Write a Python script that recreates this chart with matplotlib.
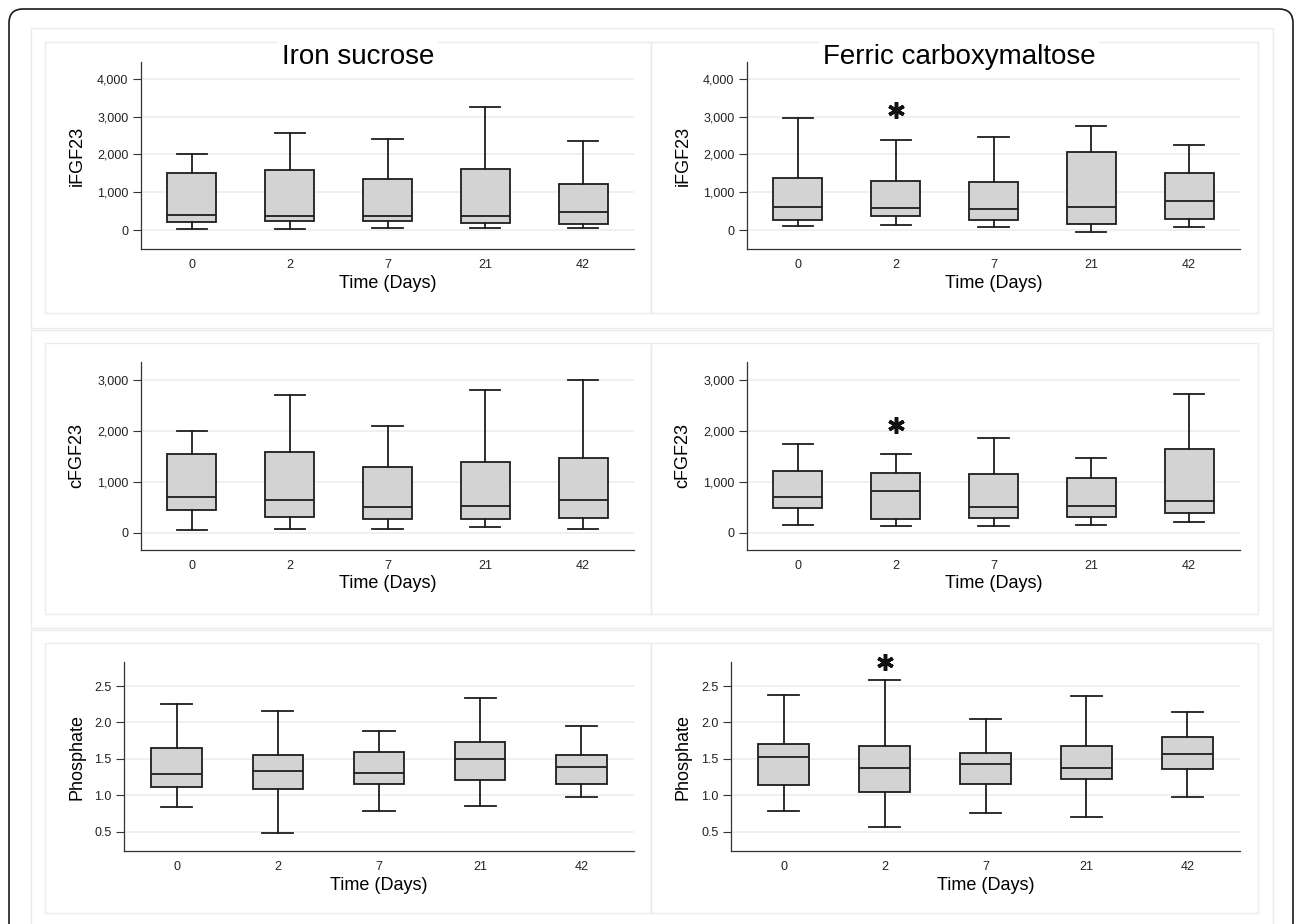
import matplotlib.pyplot as plt
import matplotlib.ticker as mticker
from matplotlib.patches import FancyBboxPatch, Rectangle

plt.rcParams['font.family'] = ['Liberation Sans', 'DejaVu Sans']

days = ['0', '2', '7', '21', '42']
groups = ['Iron sucrose', 'Ferric carboxymaltose']

# box plot summaries: lower whisker, q1, median, q3, upper whisker
ifgf_is_lo = [26, 26, 53, 62, 53]
ifgf_is_q1 = [221, 238, 238, 177, 159]
ifgf_is_med = [397, 371, 380, 371, 477]
ifgf_is_q3 = [1510, 1581, 1342, 1625, 1227]
ifgf_is_hi = [2010, 2561, 2402, 3258, 2358]

ifgf_fcm_lo = [106, 124, 88, -44, 79]
ifgf_fcm_q1 = [265, 362, 265, 168, 283]
ifgf_fcm_med = [618, 574, 556, 600, 759]
ifgf_fcm_q3 = [1377, 1307, 1263, 2057, 1519]
ifgf_fcm_hi = [2958, 2384, 2455, 2764, 2243]

cfgf_is_lo = [59, 66, 72, 111, 66]
cfgf_is_q1 = [452, 308, 275, 275, 295]
cfgf_is_med = [707, 648, 504, 531, 635]
cfgf_is_q3 = [1559, 1585, 1284, 1395, 1474]
cfgf_is_hi = [2004, 2718, 2096, 2810, 3013]

cfgf_fcm_lo = [151, 138, 124, 144, 210]
cfgf_fcm_q1 = [485, 275, 295, 308, 380]
cfgf_fcm_med = [707, 812, 504, 531, 629]
cfgf_fcm_q3 = [1212, 1173, 1146, 1081, 1651]
cfgf_fcm_hi = [1742, 1546, 1873, 1480, 2725]

phos_is_lo = [0.84, 0.48, 0.78, 0.85, 0.98]
phos_is_q1 = [1.11, 1.08, 1.15, 1.21, 1.15]
phos_is_med = [1.29, 1.33, 1.30, 1.50, 1.39]
phos_is_q3 = [1.65, 1.55, 1.60, 1.73, 1.55]
phos_is_hi = [2.25, 2.16, 1.88, 2.33, 1.95]

phos_fcm_lo = [0.79, 0.56, 0.76, 0.70, 0.97]
phos_fcm_q1 = [1.14, 1.05, 1.16, 1.22, 1.36]
phos_fcm_med = [1.53, 1.37, 1.43, 1.37, 1.56]
phos_fcm_q3 = [1.71, 1.67, 1.58, 1.68, 1.80]
phos_fcm_hi = [2.38, 2.58, 2.05, 2.36, 2.15]

# significance stars (FCM, day 2)
star_day = 2
star_level = [3170, 2116, 2.834]

W, H = 1295, 924
fig = plt.figure(figsize=(W / 100, H / 100), dpi=100)

# background frames drawn in pixel space
bg = fig.add_axes([0, 0, 1, 1])
bg.set_xlim(0, W)
bg.set_ylim(H, 0)
bg.axis('off')
bg.add_patch(FancyBboxPatch((9, 9), 1284, 940, boxstyle='round,pad=0,rounding_size=14',
                            fc='white', ec='#1a1a1a', lw=1.2))
frame_col = '#ebebeb'
for y0, y1 in [(28, 328), (330, 628), (630, 945)]:
    bg.add_patch(Rectangle((31, y0), 1242, y1 - y0, fc='none', ec=frame_col, lw=1.0))
for y0, y1 in [(42, 313), (343, 614), (643, 913)]:
    bg.add_patch(Rectangle((45, y0), 606, y1 - y0, fc='none', ec=frame_col, lw=1.0))
    bg.add_patch(Rectangle((651, y0), 607, y1 - y0, fc='none', ec=frame_col, lw=1.0))


def px_axes(x0, y0, x1, y1):
    return fig.add_axes([x0 / W, 1 - y1 / H, (x1 - x0) / W, (y1 - y0) / H])


def draw_box(ax, lo, q1, med, q3, hi):
    stats = [dict(whislo=lo[i], q1=q1[i], med=med[i], q3=q3[i], whishi=hi[i], label=days[i])
             for i in range(len(days))]
    lc = '#1e1e1e'
    ax.bxp(stats, positions=range(1, 6), widths=0.5, capwidths=0.31, patch_artist=True,
           showfliers=False,
           boxprops=dict(facecolor='#d3d3d3', edgecolor=lc, linewidth=1.3),
           whiskerprops=dict(color=lc, linewidth=1.3),
           capprops=dict(color=lc, linewidth=1.3),
           medianprops=dict(color=lc, linewidth=1.3))


def style(ax, ylabel, ylim, yticks, fmt, ylab_px):
    ax.set_xlim(0.48, 5.52)
    ax.set_ylim(*ylim)
    ax.set_yticks(yticks)
    ax.yaxis.set_major_formatter(fmt)
    for s in ['top', 'right']:
        ax.spines[s].set_visible(False)
    for s in ['left', 'bottom']:
        ax.spines[s].set_color('#333333')
        ax.spines[s].set_linewidth(0.9)
    ax.grid(axis='y', color='#eeeeee', linewidth=1.2)
    ax.set_axisbelow(True)
    ax.tick_params(axis='y', length=6, width=0.8, color='#333333', pad=3, labelsize=9,
                   labelcolor='#222222')
    ax.tick_params(axis='x', length=0, pad=7, labelsize=9, labelcolor='#222222')
    ax.set_xlabel('Time (Days)', fontsize=13)
    ax.xaxis.set_label_coords(0.5, -34 / (ax.get_position().height * H))
    ax.xaxis.label.set_va('center')
    ax.set_ylabel(ylabel, fontsize=13)
    pos = ax.get_position()
    ax.yaxis.set_label_coords((ylab_px / W - pos.x0) / pos.width, 0.5)
    ax.yaxis.label.set_va('center')


thousands = mticker.FuncFormatter(lambda v, p: f'{v:,.0f}')
onedec = mticker.FuncFormatter(lambda v, p: f'{v:.1f}')

rows = [
    ('iFGF23', (62, 249), (-503, 4450), [0, 1000, 2000, 3000, 4000], thousands,
     [(ifgf_is_lo, ifgf_is_q1, ifgf_is_med, ifgf_is_q3, ifgf_is_hi),
      (ifgf_fcm_lo, ifgf_fcm_q1, ifgf_fcm_med, ifgf_fcm_q3, ifgf_fcm_hi)], (141, 747)),
    ('cFGF23', (362, 550), (-340, 3360), [0, 1000, 2000, 3000], thousands,
     [(cfgf_is_lo, cfgf_is_q1, cfgf_is_med, cfgf_is_q3, cfgf_is_hi),
      (cfgf_fcm_lo, cfgf_fcm_q1, cfgf_fcm_med, cfgf_fcm_q3, cfgf_fcm_hi)], (141, 747)),
    ('Phosphate', (662, 851), (0.235, 2.83), [0.5, 1.0, 1.5, 2.0, 2.5], onedec,
     [(phos_is_lo, phos_is_q1, phos_is_med, phos_is_q3, phos_is_hi),
      (phos_fcm_lo, phos_fcm_q1, phos_fcm_med, phos_fcm_q3, phos_fcm_hi)], (124, 731)),
]
col_right = (634, 1240)
ylab_x = (77, 683)

for r, (name, (y0, y1), ylim, yt, fmt, series, lefts) in enumerate(rows):
    for c in range(2):
        ax = px_axes(lefts[c], y0, col_right[c], y1)
        draw_box(ax, *series[c])
        style(ax, name, ylim, yt, fmt, ylab_x[c])
        if c == 1:
            ax.plot(days.index(str(star_day)) + 1, star_level[r], marker=(6, 2, 0), ms=12,
                    mew=2.5, color='#111111', clip_on=False, zorder=5)

# column titles sitting on the frame line
for x, t in zip([358, 959], groups):
    fig.text(x / W, 1 - 57 / H, t, fontsize=20, ha='center', va='center',
             bbox=dict(fc='white', ec='none', pad=3))

fig.savefig('out.png', dpi=100)
